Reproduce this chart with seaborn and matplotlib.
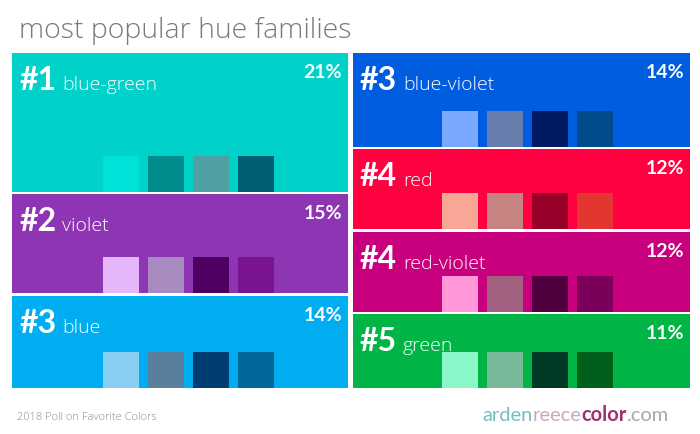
import matplotlib
matplotlib.use("Agg")
import matplotlib.pyplot as plt
import seaborn as sns

# ---- data ----
left_families = ["blue-green", "violet", "blue"]
left_ranks = ["#1", "#2", "#3"]
left_pcts = [21, 15, 14]
left_colors = ["#00D1C9", "#8E35B3", "#00ADF0"]
left_swatches = [
    ["#00E2D8", "#008C8C", "#4FA0A2", "#005F70"],
    ["#E6B6FA", "#A78ABF", "#4D0062", "#7A1490"],
    ["#88CDF2", "#5A7F9C", "#003D70", "#006899"],
]

right_families = ["blue-violet", "red", "red-violet", "green"]
right_ranks = ["#3", "#4", "#4", "#5"]
right_pcts = [14, 12, 12, 11]
right_colors = ["#005DE0", "#FF0040", "#C8007D", "#00B445"]
right_swatches = [
    ["#7AA8FF", "#687DAD", "#001B62", "#004B8B"],
    ["#F8A696", "#C78282", "#98002A", "#E43530"],
    ["#FF98D9", "#A26180", "#51003F", "#7B0059"],
    ["#8AF8C9", "#79B99A", "#003A24", "#005F1A"],
]

title = "most popular hue families"
footer_left = "2018 Poll on Favorite Colors"
logo_parts = ["arden", "reece", "color", ".com"]
logo_colors = ["#6DC1C0", "#C6AABD", "#A2306F", "#A9A9A9"]

# ---- figure ----
sns.set_theme(style="white")
plt.rcParams["font.family"] = ["Lato", "DejaVu Sans"]
LIGHT = ["Open Sans", "Lato", "DejaVu Sans"]

W, H = 700, 434
fig = plt.figure(figsize=(W / 100, H / 100), dpi=100)
ax = fig.add_axes([0, 0, 1, 1])
ax.set_xlim(0, W)
ax.set_ylim(H, 0)
ax.axis("off")

col_top, col_bottom, gap = 53, 388, 2.5


def draw_column(x0, width, ranks, fams, pcts, colors, swatches, sw_off):
    n = len(pcts)
    avail = (col_bottom - col_top) - gap * (n - 1)
    total = sum(pcts)
    y = col_top
    for rank, fam, pct, col, sws in zip(ranks, fams, pcts, colors, swatches):
        h = pct / total * avail
        ax.bar(x0, h, width=width, bottom=y, align="edge", color=col,
               linewidth=0)
        s = 36
        for i, sc in enumerate(sws):
            ax.bar(x0 + sw_off + i * 45, s, width=s, bottom=y + h - s,
                   align="edge", color=sc, linewidth=0)
        ax.text(x0 + 7, y + 37, rank, color="white", fontsize=23,
                fontweight="bold", ha="left", va="baseline")
        ax.text(x0 + 50, y + 37, fam, color="white", fontsize=14,
                fontweight=300, family=LIGHT, ha="left", va="baseline")
        ax.text(x0 + width - 6, y + 25, f"{pct}%", color="white",
                fontsize=14, fontweight="bold", ha="right", va="baseline")
        y += h + gap


draw_column(12, 336, left_ranks, left_families, left_pcts, left_colors,
            left_swatches, 91)
draw_column(353, 337, right_ranks, right_families, right_pcts, right_colors,
            right_swatches, 89)

ax.text(19, 38, title, color="#7A7A7A", fontsize=20.5, fontweight=300,
        family=LIGHT, ha="left", va="baseline")
ax.text(17, 420, footer_left, color="#8A8A8A", fontsize=8,
        fontweight=300, family=LIGHT, ha="left", va="baseline")

x = 482
renderer = fig.canvas.get_renderer()
for part, c in zip(logo_parts, logo_colors):
    t = ax.text(x, 421, part, color=c, fontsize=14.5,
                fontweight="bold" if part == "color" else "normal",
                ha="left", va="baseline")
    bb = t.get_window_extent(renderer=renderer)
    x += bb.width

fig.savefig("out.png", dpi=100)
